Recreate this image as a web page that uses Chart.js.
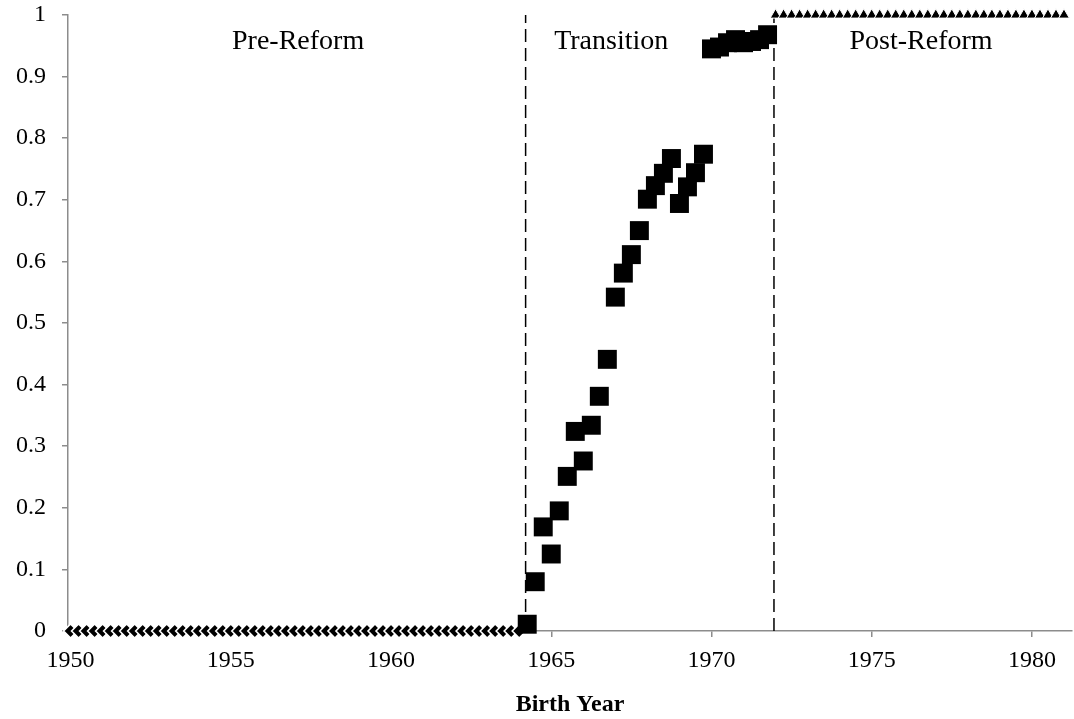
<!DOCTYPE html>
<html>
<head>
<meta charset="utf-8">
<script src="https://cdn.jsdelivr.net/npm/chart.js@4.4.0/dist/chart.umd.min.js"></script>
<style>
  html, body { margin: 0; padding: 0; background: #fff; }
  #wrap { width: 1074px; height: 719px; }
</style>
</head>
<body>
<div id="wrap"><canvas id="birthChart" width="1074" height="719"></canvas></div>
<script>
// pre-reform cohorts, quarterly, all zero
var preYears = [];
var preValues = [];
// (quarters 1950.00 .. 1964.00)
var preStart = 1950, preCount = 57;
for (var i = 0; i < preCount; i++) { preYears.push(preStart + i * 0.25); preValues.push(0); }

// transition cohorts
var transYears = [1964.25, 1964.5, 1964.75, 1965, 1965.25, 1965.5, 1965.75, 1966, 1966.25, 1966.5,
                  1966.75, 1967, 1967.25, 1967.5, 1967.75, 1968, 1968.25, 1968.5, 1968.75, 1969,
                  1969.25, 1969.5, 1969.75, 1970, 1970.25, 1970.5, 1970.75, 1971, 1971.25, 1971.5, 1971.75];
var transValues = [0.011, 0.080, 0.169, 0.125, 0.195, 0.251, 0.324, 0.276, 0.334, 0.381,
                   0.441, 0.542, 0.581, 0.611, 0.650, 0.701, 0.723, 0.743, 0.767, 0.694,
                   0.721, 0.744, 0.774, 0.945, 0.948, 0.955, 0.960, 0.955, 0.957, 0.960, 0.968];

// post-reform cohorts, quarterly, all one
var postYears = [];
var postValues = [];
var postStart = 1972, postCount = 37;
for (var j = 0; j < postCount; j++) { postYears.push(postStart + j * 0.25); postValues.push(1); }

var cutoffYears = [1964.2, 1971.95];
var regionNames = ["Pre-Reform", "Transition", "Post-Reform"];
var regionCenters = [1957.1, 1966.87, 1976.54];

var xTicks = [1950, 1955, 1960, 1965, 1970, 1975, 1980];
var yTicks = [0, 0.1, 0.2, 0.3, 0.4, 0.5, 0.6, 0.7, 0.8, 0.9, 1];

function pts(xs, ys) {
  return xs.map(function(x, k) { return {x: x, y: ys[k]}; });
}

var serif = "'Liberation Serif', 'Times New Roman', serif";
var axisGrey = "#8c8c8c";

// chart.js keeps some room right of the x axis for the last label; take it back
var stretchX = {
  id: 'stretchX',
  afterLayout: function(chart) {
    var s = chart.scales.x, r = chart.width - 2;
    s.right = r;
    s.width = r - s.left;
    s.configure();
    chart.chartArea.right = r;
    chart.chartArea.width = r - chart.chartArea.left;
  }
};

var regionLabels = {
  id: 'regionLabels',
  afterDatasetsDraw: function(chart) {
    var ctx = chart.ctx, xs = chart.scales.x, area = chart.chartArea;
    ctx.save();
    ctx.font = "28px " + serif;
    ctx.fillStyle = "#000";
    ctx.textAlign = "center";
    ctx.textBaseline = "alphabetic";
    regionNames.forEach(function(name, k) {
      ctx.fillText(name, xs.getPixelForValue(regionCenters[k]), area.top + 34);
    });
    ctx.restore();
  }
};

var datasets = [];
cutoffYears.forEach(function(yr) {
  datasets.push({
    type: 'line',
    data: [{x: yr, y: 0}, {x: yr, y: 1}],
    borderColor: "#000",
    borderWidth: 1.5,
    borderDash: [13, 6],
    pointRadius: 0,
    order: 4,
    clip: false
  });
});
datasets.push({
  label: "Pre-Reform",
  data: pts(preYears, preValues),
  pointStyle: 'rectRot',
  pointRadius: 7,
  backgroundColor: "#000",
  borderColor: "#fff",
  borderWidth: 1.6,
  order: 3,
  clip: false
});
datasets.push({
  label: "Transition",
  data: pts(transYears, transValues),
  pointStyle: 'rect',
  pointRadius: 13.4,
  backgroundColor: "#000",
  borderWidth: 0,
  order: 2,
  clip: false
});
datasets.push({
  label: "Post-Reform",
  data: pts(postYears, postValues),
  pointStyle: 'triangle',
  pointRadius: 6.2,
  backgroundColor: "#000",
  borderColor: "#fff",
  borderWidth: 1,
  order: 1,
  clip: false
});

var ctx = document.getElementById("birthChart").getContext("2d");
new Chart(ctx, {
  type: 'scatter',
  data: {datasets: datasets},
  options: {
    responsive: false,
    animation: false,
    layout: {padding: {top: 15, right: 2, left: 0, bottom: 0}},
    plugins: {legend: {display: false}, tooltip: {enabled: false}},
    scales: {
      x: {
        type: 'linear',
        min: 1949.92,
        max: 1981.25,
        afterBuildTicks: function(s) { s.ticks = xTicks.map(function(v) { return {value: v}; }); },
        afterFit: function(s) { s.height = 88; },
        border: {color: axisGrey, width: 1.5},
        grid: {drawOnChartArea: false, drawTicks: true, tickLength: 6, color: axisGrey, lineWidth: 1.5},
        ticks: {color: "#000", font: {family: serif, size: 24}, padding: 9, maxRotation: 0,
                callback: function(v) { return String(v); }},
        title: {display: true, text: "Birth Year", color: "#000",
                font: {family: serif, size: 24, weight: 'bold'}, padding: {top: 8, bottom: 0}}
      },
      y: {
        min: 0,
        max: 1,
        afterBuildTicks: function(s) { s.ticks = yTicks.map(function(v) { return {value: v}; }); },
        afterFit: function(s) { s.width = 68; s.paddingTop = 0; s.paddingBottom = 0; },
        border: {color: axisGrey, width: 1.5},
        grid: {drawOnChartArea: false, drawTicks: true, tickLength: 6, color: axisGrey, lineWidth: 1.5},
        ticks: {color: "#000", font: {family: serif, size: 24}, padding: 16,
                callback: function(v) { return String(Math.round(v * 10) / 10); }}
      }
    }
  },
  plugins: [stretchX, regionLabels]
});
</script>
</body>
</html>
